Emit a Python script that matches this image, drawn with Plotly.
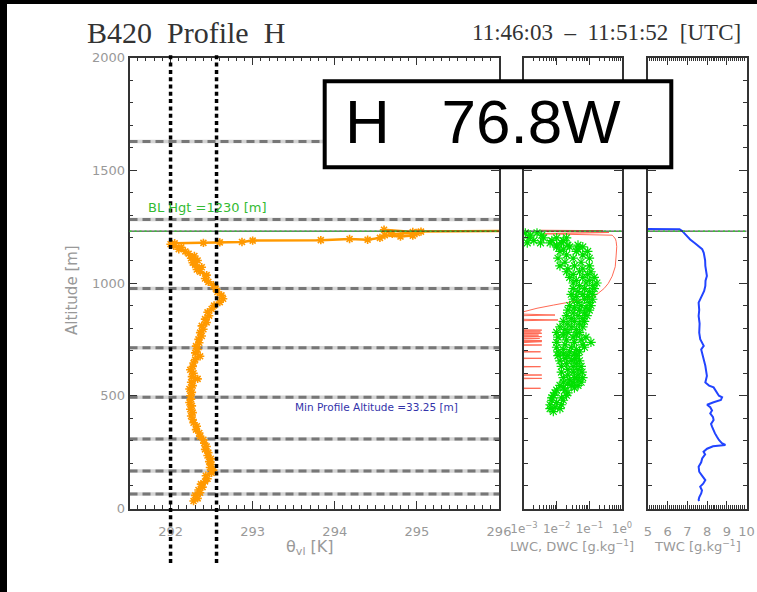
import plotly.graph_objects as go

W, H = 757, 592

# ---------------- profile data ----------------
# virtual liquid potential temperature profile
theta_alt = [33, 45, 58, 70, 82, 95, 108, 120, 132, 145, 158, 170, 182, 195, 208, 220, 235, 248, 262, 275,
             290, 305, 320, 335, 350, 365, 380, 395, 410, 425, 440, 455, 470, 485, 500, 515, 530, 545, 560, 575,
             585, 600, 615, 630, 645, 660, 675, 690, 705, 720, 735, 750, 765, 780, 795, 810, 825, 840, 855, 870,
             885, 900, 915, 930, 945, 960, 975, 990, 1005, 1020, 1035, 1050, 1060, 1070, 1080, 1090, 1100, 1110,
             1120, 1130, 1140, 1150, 1158, 1165, 1172, 1176, 1178, 1180, 1182, 1188, 1190, 1195, 1192, 1200,
             1212, 1206, 1210, 1222, 1218, 1236, 1226, 1228, 1232]
theta_vl = [292.28, 292.33, 292.30, 292.36, 292.34, 292.39, 292.37, 292.42, 292.45, 292.43, 292.50, 292.52,
            292.48, 292.50, 292.47, 292.49, 292.45, 292.46, 292.42, 292.44, 292.41, 292.40, 292.36, 292.35,
            292.31, 292.32, 292.28, 292.27, 292.25, 292.27, 292.24, 292.26, 292.23, 292.25, 292.24, 292.26,
            292.23, 292.27, 292.25, 292.33, 292.26, 292.28, 292.24, 292.27, 292.28, 292.30, 292.36, 292.30,
            292.33, 292.31, 292.35, 292.34, 292.38, 292.36, 292.40, 292.38, 292.44, 292.42, 292.47, 292.45,
            292.50, 292.53, 292.60, 292.64, 292.62, 292.57, 292.55, 292.52, 292.46, 292.42, 292.44, 292.36,
            292.32, 292.38, 292.30, 292.27, 292.33, 292.25, 292.29, 292.22, 292.18, 292.10, 292.13, 292.04,
            292.00, 292.05, 292.40, 292.60, 292.87, 293.00, 293.83, 294.18, 294.40, 294.55, 294.61, 294.80,
            294.95, 295.00, 294.70, 294.60, 294.95, 295.05, 296.30]

# liquid water content samples [g/kg]
lwc_alt = [1222, 1222, 1212, 1212,
           1200, 1200, 1200, 1200,
           1188, 1188, 1188,
           1178, 1178, 1178, 1178,
           1168, 1168, 1168,
           1160, 1160, 1160, 1150, 1150, 1140, 1140, 1140, 1125, 1125, 1110, 1110, 1110, 1092, 1092,
           1076, 1076, 1076, 1063, 1063,
           1050, 1050, 1050, 1038, 1038, 1025, 1025, 1025, 1012, 1012, 1000, 1000, 1000, 988, 988,
           975, 975, 975, 962, 962,
           950, 950, 950, 940, 940, 928, 928, 928, 914, 914, 900, 900, 900, 890, 890, 880, 880, 880,
           867, 867, 855, 855, 855, 842, 842, 830, 830, 830, 818, 818, 805, 805, 805, 793, 793,
           781, 781, 781, 770, 770,
           760, 760, 760, 748, 748, 737, 737, 737, 726, 726, 715, 715, 715, 705, 705, 695, 695, 695,
           686, 686, 678, 678, 678, 666, 666, 655, 655, 655, 642, 642, 630, 630, 630, 617, 617,
           605, 605, 605, 592, 592,
           580, 580, 580, 570, 570, 560, 560, 560, 553, 546, 546, 546, 535, 535,
           525, 525, 513, 513, 502, 502, 491, 491, 480, 480, 470, 460, 460, 450, 443, 443, 430]
lwc_val = [1.1e-3, 2.5e-3, 1.6e-3, 3.5e-3,
           1.4e-3, 4.0e-3, 1.0e-2, 2.0e-2,
           2.0e-3, 7.1e-3, 1.6e-2,
           1.26e-3, 3.2e-3, 6.3e-3, 1.4e-2,
           1.0e-2, 2.2e-2, 4.5e-2,
           1.0e-2, 2.5e-2, 6.3e-2, 1.6e-2, 4.5e-2, 1.26e-2, 4.0e-2, 8.9e-2, 2.0e-2, 6.3e-2, 1.1e-2, 3.2e-2,
           0.10, 1.8e-2, 5.6e-2,
           1.26e-2, 3.5e-2, 0.10, 2.2e-2, 6.3e-2,
           2.0e-2, 5.0e-2, 0.112, 3.2e-2, 8.9e-2, 2.5e-2, 6.3e-2, 0.141, 4.0e-2, 0.10, 3.2e-2, 7.9e-2, 0.17,
           5.0e-2, 0.126,
           3.2e-2, 7.1e-2, 0.141, 4.5e-2, 0.10,
           2.8e-2, 6.3e-2, 0.126, 4.0e-2, 8.9e-2, 3.2e-2, 7.1e-2, 0.126, 4.5e-2, 0.10, 2.5e-2, 5.6e-2,
           0.112, 3.5e-2, 7.9e-2, 2.2e-2, 5.0e-2, 0.10,
           3.2e-2, 7.1e-2, 2.0e-2, 4.5e-2, 8.5e-2, 2.8e-2, 6.3e-2, 1.6e-2, 3.5e-2, 7.1e-2, 2.2e-2, 5.0e-2,
           1.26e-2, 2.8e-2, 6.3e-2, 1.8e-2, 4.0e-2,
           1.0e-2, 2.2e-2, 5.0e-2, 1.6e-2, 4.0e-2,
           1.1e-2, 3.2e-2, 7.9e-2, 2.0e-2, 5.6e-2, 1.0e-2, 3.5e-2, 0.112, 1.8e-2, 6.3e-2, 1.0e-2, 2.8e-2,
           7.1e-2, 1.6e-2, 4.0e-2, 1.1e-2, 2.5e-2, 5.0e-2,
           1.6e-2, 3.5e-2, 1.1e-2, 2.2e-2, 4.2e-2, 1.8e-2, 3.5e-2, 1.26e-2, 2.8e-2, 5.0e-2, 2.0e-2, 4.0e-2,
           1.4e-2, 3.2e-2, 5.6e-2, 2.2e-2, 4.5e-2,
           1.4e-2, 3.2e-2, 6.0e-2, 2.2e-2, 4.5e-2,
           1.6e-2, 3.5e-2, 6.3e-2, 2.5e-2, 4.5e-2, 1.6e-2, 3.2e-2, 5.6e-2, 2.2e-2, 1.26e-2, 2.8e-2, 4.5e-2,
           1.6e-2, 3.5e-2,
           1.0e-2, 1.8e-2, 8.9e-3, 2.2e-2, 7.9e-3, 2.0e-2, 7.1e-3, 1.4e-2, 7.1e-3, 1.6e-2, 1.0e-2, 6.3e-3,
           1.4e-2, 8.9e-3, 6.3e-3, 1.26e-2, 7.9e-3]

# drizzle water content [g/kg]; 1e-4 marks samples below the plotted range
dwc_alt = [1234, 1232, 1228, 1224, 1218, 1212, 1205, 1195, 1185, 1161, 1120, 1072, 1030, 998, 975, 954,
           932, 917, 902, 888, 873, 866, 858, 852, 842, 836, 830, 795, 791, 787, 783, 780, 777, 773, 769,
           766, 762, 758, 754, 750, 745, 742, 740, 737, 728, 725, 721, 698, 695, 691, 669, 666, 662, 632,
           629, 625, 595, 592, 588, 580, 577, 573, 536, 533, 529, 33]
dwc_val = [3.2e-3, 0.26, 5.0e-3, 0.40, 4.0e-3, 0.50, 0.56, 0.63, 0.66, 0.69, 0.66, 0.62, 0.50, 0.38, 0.28,
           0.186, 0.105, 0.026, 7.9e-3, 2.5e-3, 1.0e-3, 1e-4, 8.9e-3, 1e-4, 1e-4, 1.1e-2, 1e-4, 1e-4, 3.5e-3,
           1e-4, 3.2e-3, 1e-4, 3.5e-3, 1e-4, 2.8e-3, 1e-4, 3.5e-3, 1e-4, 3.0e-3, 1e-4, 3.5e-3, 1e-4, 3.5e-3,
           1e-4, 1e-4, 3.5e-3, 1e-4, 1e-4, 3.2e-3, 1e-4, 1e-4, 3.5e-3, 1e-4, 1e-4, 3.2e-3, 1e-4, 1e-4,
           3.5e-3, 1e-4, 1e-4, 3.5e-3, 1e-4, 1e-4, 3.2e-3, 1e-4, 1e-4]

# total water content [g/kg]
twc_alt = [1240, 1238, 1232, 1210, 1193, 1175, 1164, 1150, 1134, 1100, 1076, 1050, 1031, 1010, 987, 965,
           943, 913, 880, 854, 820, 780, 751, 735, 721, 705, 692, 660, 633, 610, 588, 559, 545, 537, 515,
           500, 493, 481, 471, 460, 449, 435, 422, 405, 392, 375, 363, 345, 333, 318, 304, 290, 282, 276,
           265, 252, 240, 222, 205, 185, 163, 145, 126, 110, 97, 80, 67, 50, 38, 33]
twc_val = [4.5, 6.6, 6.72, 6.95, 7.14, 7.4, 7.57, 7.75, 7.83, 7.9, 7.91, 7.95, 7.99, 7.92, 7.91, 7.85,
           7.74, 7.57, 7.6, 7.57, 7.62, 7.6, 7.65, 7.75, 7.83, 7.7, 7.74, 7.8, 7.91, 7.95, 7.99, 7.91, 8.1,
           8.33, 8.5, 8.6, 8.76, 8.7, 8.33, 8.0, 8.16, 8.25, 8.16, 8.3, 8.33, 8.2, 8.25, 8.33, 8.4, 8.5,
           8.6, 8.75, 8.93, 8.3, 8.0, 7.82, 7.9, 7.75, 7.7, 7.57, 7.6, 7.75, 7.91, 7.8, 7.65, 7.74, 7.7,
           7.6, 7.57, 7.6]

bl_height = 1230
min_alt = 33.25
level_alts = [64, 166, 308, 493, 713, 976, 1282, 1627]
theta_bounds = [292.0, 292.56]

theta_ticks = [292, 293, 294, 295, 296]
alt_ticks = [0, 500, 1000, 1500, 2000]
lwc_ticks = [1e-3, 1e-2, 1e-1, 1e0]
lwc_ticktext = ["1e<sup>−3</sup>", "1e<sup>−2</sup>", "1e<sup>−1</sup>", "1e<sup>0</sup>"]
lwc_minor = [m * d for d in (1e-3, 1e-2, 1e-1) for m in range(2, 10)]
twc_ticks = [5, 6, 7, 8, 9, 10]


def px(x):
    return x / W


def py(y):
    return 1 - y / H


AX = "#333333"
LBL = "#999999"
SANS = "DejaVu Sans"
NB = "\u00a0"

fig = go.Figure()

fig.add_trace(go.Scatter(
    x=theta_vl, y=theta_alt, mode="lines+markers", xaxis="x", yaxis="y",
    line=dict(color="#ff9900", width=2.5),
    marker=dict(symbol="asterisk-open", size=7, color="#ff9900", line=dict(color="#ff9900", width=1.6)),
    showlegend=False))

fig.add_trace(go.Scatter(
    x=dwc_val, y=dwc_alt, mode="lines", xaxis="x2", yaxis="y2",
    line=dict(color="#ff6a55", width=1), showlegend=False))

fig.add_trace(go.Scatter(
    x=lwc_val, y=lwc_alt, mode="markers", xaxis="x2", yaxis="y2",
    marker=dict(symbol="asterisk-open", size=8, color="#00e000", line=dict(color="#00e000", width=1.2)),
    showlegend=False))

fig.add_trace(go.Scatter(
    x=twc_val, y=twc_alt, mode="lines", xaxis="x3", yaxis="y3",
    line=dict(color="#2244ff", width=2), showlegend=False))


def base_axis(**kw):
    d = dict(showline=True, linecolor=AX, linewidth=1.5, mirror="allticks",
             ticks="inside", ticklen=8, tickwidth=1, tickcolor=AX,
             showgrid=False, zeroline=False, tickangle=0, automargin=False,
             tickfont=dict(family=SANS, size=13, color=LBL))
    d.update(kw)
    return d


y_dom = [py(508.5), py(57.5)]
y_minor = dict(ticks="inside", ticklen=4, dtick=100, tickcolor=AX, showgrid=False)

fig.update_layout(
    width=W, height=H, autosize=False,
    margin=dict(l=0, r=0, t=0, b=0, pad=0),
    paper_bgcolor="white", plot_bgcolor="white",
    xaxis=base_axis(domain=[px(129.5), px(499)], range=[291.5, 296], anchor="y",
                    tickmode="array", tickvals=theta_ticks, ticklabelstandoff=10,
                    minor=dict(ticks="inside", ticklen=4, dtick=0.1, tickcolor=AX, showgrid=False)),
    yaxis=base_axis(domain=y_dom, range=[0, 2000], anchor="x",
                    tickmode="array", tickvals=alt_ticks, minor=y_minor),
    xaxis2=base_axis(domain=[px(524), px(622)], type="log", range=[-3, 0], anchor="y2",
                     tickmode="array", tickvals=lwc_ticks, ticktext=lwc_ticktext, ticklabelstandoff=8,
                     tickfont=dict(family=SANS, size=12, color=LBL),
                     minor=dict(ticks="inside", ticklen=4, tickmode="array", tickvals=lwc_minor,
                                tickcolor=AX, showgrid=False)),
    yaxis2=base_axis(domain=y_dom, range=[0, 2000], anchor="x2", showticklabels=False,
                     tickmode="array", tickvals=alt_ticks, minor=y_minor),
    xaxis3=base_axis(domain=[px(648), px(746.5)], range=[5, 10], anchor="y3",
                     tickmode="array", tickvals=twc_ticks, ticklabelstandoff=10,
                     minor=dict(ticks="inside", ticklen=4, dtick=0.1, tickcolor=AX, showgrid=False)),
    yaxis3=base_axis(domain=y_dom, range=[0, 2000], anchor="x3", showticklabels=False,
                     tickmode="array", tickvals=alt_ticks, minor=y_minor),
)

shapes = []
# horizontal reference levels on the theta panel
for a in level_alts:
    shapes.append(dict(type="line", xref="x domain", yref="y", x0=0, x1=1, y0=a, y1=a,
                       line=dict(color="#d4d4d4", width=3.5), layer="below"))
    shapes.append(dict(type="line", xref="x domain", yref="y", x0=0, x1=1, y0=a, y1=a,
                       line=dict(color="#777777", width=3, dash="8px,5px"), layer="below"))
# boundary-layer top across the three panels
for xr, yr in (("x domain", "y"), ("x2 domain", "y2"), ("x3 domain", "y3")):
    shapes.append(dict(type="line", xref=xr, yref=yr, x0=0, x1=1, y0=bl_height, y1=bl_height,
                       line=dict(color="#222222", width=1), layer="above"))
    shapes.append(dict(type="line", xref=xr, yref=yr, x0=0, x1=1, y0=bl_height, y1=bl_height,
                       line=dict(color="#33cc33", width=1.5, dash="2px,3px"), layer="above"))
# theta bounds
for tb in theta_bounds:
    shapes.append(dict(type="line", xref="x", yref="paper", x0=tb, x1=tb, y0=py(563), y1=py(55),
                       line=dict(color="black", width=3.5, dash="4px,3.3px"), layer="above"))
# label box
shapes.append(dict(type="rect", xref="paper", yref="paper",
                   x0=px(324.7), x1=px(671.3), y0=py(167.3), y1=py(81.3),
                   line=dict(color="black", width=4), fillcolor="white", layer="above"))
# frame edges
shapes.append(dict(type="rect", xref="paper", yref="paper", x0=0, x1=px(7), y0=0, y1=1,
                   line=dict(width=0), fillcolor="black", layer="above"))
shapes.append(dict(type="rect", xref="paper", yref="paper", x0=0, x1=1, y0=py(4), y1=1,
                   line=dict(width=0), fillcolor="black", layer="above"))
fig.update_layout(shapes=shapes)


def note(text, x, y, size, color, family=SANS, xanchor="center", angle=0):
    fig.add_annotation(text=text, x=px(x), y=py(y), xref="paper", yref="paper",
                       xanchor=xanchor, yanchor="middle", showarrow=False, textangle=angle,
                       font=dict(family=family, size=size, color=color))


note(f"B420{NB * 2}Profile{NB * 2}H", 85, 33, 30, "#333333", family="Liberation Serif", xanchor="left")
note(f"11:46:03{NB * 2}–{NB * 2}11:51:52{NB * 2}[UTC]", 470, 33, 23, "#333333",
     family="Liberation Serif", xanchor="left")
note(f"H{NB * 3}76.8W", 343, 121, 62, "black", family="Liberation Sans", xanchor="left")
note("Altitude [m]", 72, 290, 15, "#999999", angle=-90)
note("θ<sub>vl</sub> [K]", 310, 547, 16, "#999999")
note("LWC, DWC [g.kg<sup>−1</sup>]", 572, 546, 13, "#999999")
note("TWC [g.kg<sup>−1</sup>]", 697, 546, 13, "#999999")
note(f"BL Hgt ={bl_height} [m]", 146, 207, 13, "#33bb33", xanchor="left")
note(f"Min Profile Altitude ={min_alt} [m]", 293, 407, 10.5, "#3333aa", xanchor="left")

# keep the figure flush with the window edges
page_js = "document.body.style.margin = '0'; document.body.style.overflow = 'hidden';"
fig.write_html("out.html", post_script=page_js)
